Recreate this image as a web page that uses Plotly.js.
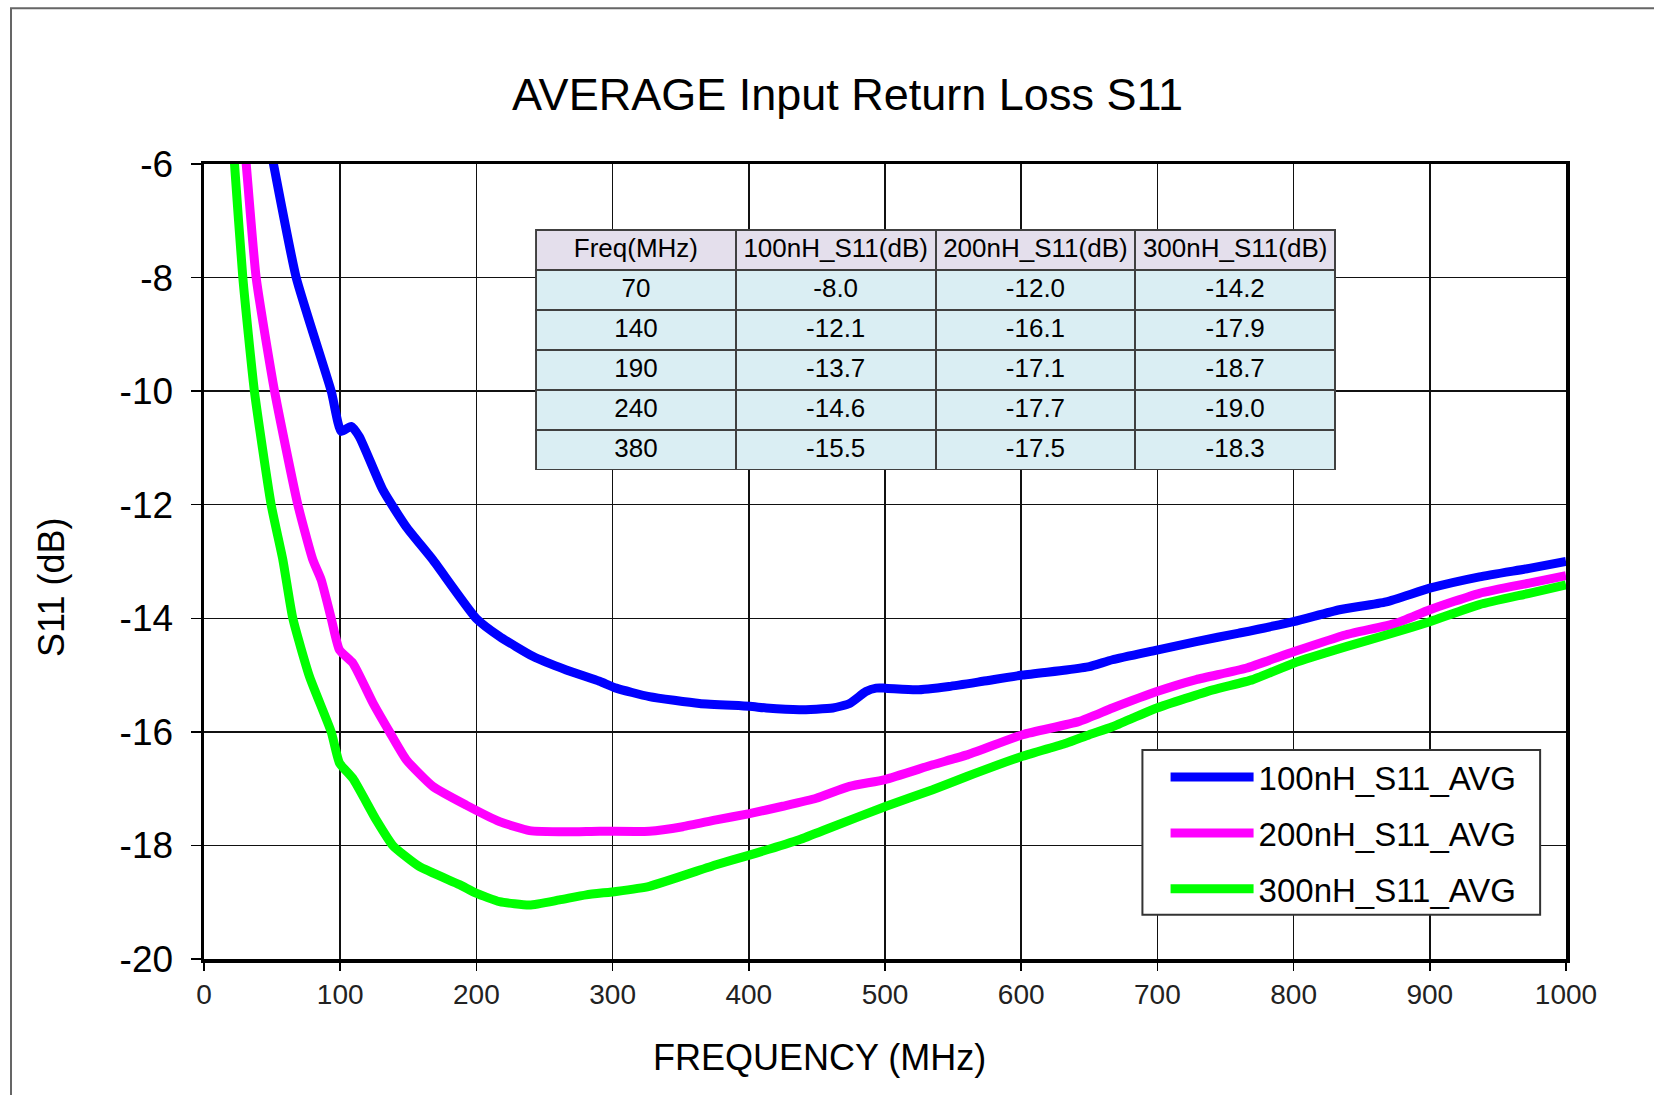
<!DOCTYPE html>
<html>
<head>
<meta charset="utf-8">
<script src="https://cdn.plot.ly/plotly-3.0.1.min.js"></script>
<style>html,body{margin:0;padding:0;background:#fff;}#chart{width:1654px;height:1095px;}</style>
</head>
<body>
<div id="chart"></div>
<script>
// ---- data ----
var freq100 = [47.7, 51, 67.7, 93.4, 100.7, 108, 114, 131.3, 148.5, 168, 199.8, 217, 241.4, 266, 290.4, 302.6, 327, 363.8, 400.5, 412.8, 437, 461.7, 474, 486, 493.5, 500, 523, 547, 571.8, 601, 633, 650, 667, 699.6, 728.5, 760, 800, 833.7, 868, 900, 936.5, 973, 1000];
var s11_100 = [-5.6, -6.0, -8.0, -10.0, -10.71, -10.62, -10.8, -11.74, -12.39, -12.97, -14.0, -14.32, -14.67, -14.91, -15.11, -15.23, -15.38, -15.5, -15.55, -15.58, -15.61, -15.58, -15.5, -15.29, -15.23, -15.23, -15.26, -15.2, -15.11, -15.0, -14.91, -14.85, -14.73, -14.56, -14.41, -14.26, -14.06, -13.85, -13.71, -13.47, -13.27, -13.12, -13.0];

var freq200 = [29.5, 31, 38.3, 51.8, 68.9, 79.9, 86, 93.4, 99.5, 109.3, 124, 136.2, 148.5, 168, 192.5, 217, 239, 266, 290.4, 327, 351.5, 376, 400.5, 425, 449.5, 474, 500, 535, 559.6, 601, 642, 667, 699.6, 728.5, 765, 800, 838.6, 875, 900, 936.5, 973, 1000];
var s11_200 = [-5.6, -6.0, -8.0, -10.0, -12.0, -12.97, -13.32, -14.0, -14.56, -14.79, -15.49, -16.0, -16.49, -16.96, -17.29, -17.58, -17.74, -17.76, -17.75, -17.75, -17.67, -17.55, -17.44, -17.31, -17.17, -16.96, -16.84, -16.58, -16.41, -16.05, -15.82, -15.58, -15.29, -15.08, -14.88, -14.59, -14.29, -14.09, -13.85, -13.56, -13.38, -13.25];

var freq300 = [21.2, 22.4, 28.5, 37, 49.3, 57.9, 65.2, 77.5, 93.4, 99.5, 109.3, 126.4, 138.6, 158, 187.6, 199.8, 217, 239, 261, 280.6, 302.6, 327, 376, 400.5, 437, 461.7, 500.8, 535, 559.6, 601, 633, 650, 667, 699.6, 740.7, 770, 800, 838.6, 873, 900, 936.5, 973, 1000];
var s11_300 = [-5.6, -6.0, -8.0, -10.0, -12.0, -12.97, -14.0, -15.03, -16.0, -16.55, -16.82, -17.55, -18.0, -18.37, -18.69, -18.84, -18.99, -19.05, -18.96, -18.87, -18.81, -18.72, -18.34, -18.17, -17.9, -17.67, -17.31, -17.02, -16.79, -16.43, -16.2, -16.05, -15.91, -15.58, -15.26, -15.08, -14.79, -14.5, -14.26, -14.06, -13.76, -13.56, -13.41];

var seriesNames = ['100nH_S11_AVG', '200nH_S11_AVG', '300nH_S11_AVG'];

var tableHeader = ['Freq(MHz)', '100nH_S11(dB)', '200nH_S11(dB)', '300nH_S11(dB)'];
var tableFreq = [70, 140, 190, 240, 380];
var table100 = [-8.0, -12.1, -13.7, -14.6, -15.5];
var table200 = [-12.0, -16.1, -17.1, -17.7, -17.5];
var table300 = [-14.2, -17.9, -18.7, -19.0, -18.3];

var xTicks = [0, 100, 200, 300, 400, 500, 600, 700, 800, 900, 1000];
var yTicks = [-6, -8, -10, -12, -14, -16, -18, -20];

// ---- figure ----
var FONT = 'Liberation Sans, Arial, sans-serif';
function fmt1(v) { return v.toFixed(1); }

var colors = ['#0000FF', '#FF00FF', '#00FF00'];
var xs = [freq100, freq200, freq300];
var ys = [s11_100, s11_200, s11_300];

var traces = [];
for (var i = 0; i < 3; i++) {
  traces.push({
    type: 'scatter', mode: 'lines',
    x: xs[i], y: ys[i],
    name: seriesNames[i],
    legendgroup: 'g' + i,
    line: {color: colors[i], width: 9, shape: 'spline', smoothing: 0.5},
    hoverinfo: 'x+y'
  });
}

traces.push({
  type: 'table',
  domain: {x: [0.2438, 0.8311], y: [0.615, 0.917]},
  columnwidth: [1, 1, 1, 1],
  header: {
    values: tableHeader,
    fill: {color: '#E4DFEC'},
    line: {color: '#404040', width: 2},
    font: {family: FONT, size: 26, color: '#000'},
    align: 'center', height: 40
  },
  cells: {
    values: [tableFreq.map(String), table100.map(fmt1), table200.map(fmt1), table300.map(fmt1)],
    fill: {color: '#DAEEF3'},
    line: {color: '#404040', width: 2},
    font: {family: FONT, size: 26, color: '#000'},
    align: 'center', height: 40
  }
});

var layout = {
  width: 1654, height: 1095,
  margin: {l: 204, r: 88, t: 164, b: 136, pad: 0},
  paper_bgcolor: '#fff', plot_bgcolor: '#fff',
  font: {family: FONT, color: '#000'},
  title: {
    text: 'AVERAGE Input Return Loss S11',
    font: {family: FONT, size: 45, color: '#000'},
    x: 0.4725, xref: 'paper', xanchor: 'center',
    y: 0.914, yref: 'container', yanchor: 'middle'
  },
  xaxis: {
    range: [0, 1000], tickmode: 'array', tickvals: xTicks, ticktext: xTicks.map(String),
    showgrid: true, gridcolor: '#111', gridwidth: 1.5,
    showline: true, linecolor: '#000', linewidth: 3.5, mirror: true,
    ticks: 'outside', ticklen: 8, tickwidth: 1.5, tickcolor: '#000',
    tickfont: {family: FONT, size: 28, color: '#222'},
    ticklabelstandoff: 3.5,
    zeroline: false, fixedrange: true
  },
  yaxis: {
    range: [-20, -6], tickmode: 'array', tickvals: yTicks, ticktext: yTicks.map(String),
    showgrid: true, gridcolor: '#111', gridwidth: 1.5,
    showline: true, linecolor: '#000', linewidth: 3.5, mirror: true,
    ticks: 'outside', ticklen: 10, tickwidth: 1.5, tickcolor: '#000',
    tickfont: {family: FONT, size: 37, color: '#000'},
    ticklabelstandoff: 10,
    zeroline: false, fixedrange: true
  },
  legend: {
    x: 0.706, y: 0.264, xanchor: 'left', yanchor: 'top',
    bgcolor: 'rgba(0,0,0,0)', borderwidth: 0,
    font: {family: FONT, size: 33, color: '#000'},
    itemwidth: 83, tracegroupgap: 10, traceorder: 'grouped'
  },
  annotations: [
    {text: 'FREQUENCY (MHz)', xref: 'x', yref: 'paper', x: 452, y: -0.1245,
     xanchor: 'center', yanchor: 'middle', showarrow: false,
     font: {family: FONT, size: 36, color: '#000'}},
    {text: 'S11 (dB)', xref: 'paper', yref: 'paper', x: -0.1116, y: 0.4667,
     xanchor: 'center', yanchor: 'middle', textangle: -90, showarrow: false,
     font: {family: FONT, size: 36, color: '#000'}}
  ],
  shapes: [
    {type: 'rect', xref: 'paper', yref: 'paper', x0: -0.1417, x1: 1.1, y0: -0.2, y1: 1.196,
     line: {color: '#666', width: 2}, fillcolor: 'rgba(0,0,0,0)', layer: 'below'},
    {type: 'rect', xref: 'paper', yref: 'paper', x0: 0.689, x1: 0.981, y0: 0.0558, y1: 0.2629,
     line: {color: '#333', width: 2}, fillcolor: '#fff', layer: 'above'}
  ]
};

Plotly.newPlot('chart', traces, layout, {displayModeBar: false, staticPlot: true});
</script>
</body>
</html>
